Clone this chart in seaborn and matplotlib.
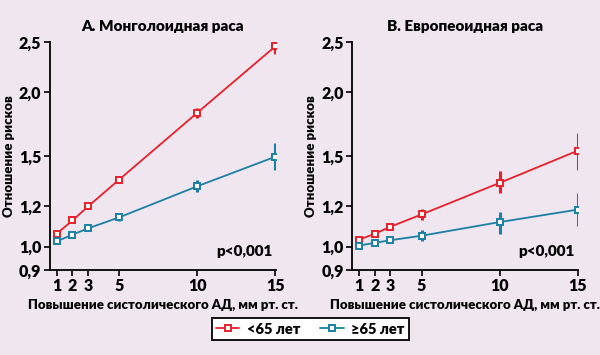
import numpy as np
import pandas as pd
import matplotlib
matplotlib.use("Agg")
import matplotlib.pyplot as plt
import seaborn as sns

# data
sbp = [1, 2, 3, 5, 10, 15]
groups = ["<65 лет", "≥65 лет"]

mong_young = [1.06, 1.124, 1.197, 1.35, 1.82, 2.45]
mong_young_lo = [1.05, 1.115, 1.187, 1.335, 1.78, 2.37]
mong_young_hi = [1.07, 1.133, 1.207, 1.365, 1.86, 2.52]
mong_old = [1.024, 1.055, 1.085, 1.14, 1.31, 1.495]
mong_old_lo = [1.017, 1.048, 1.077, 1.12, 1.275, 1.41]
mong_old_hi = [1.031, 1.062, 1.093, 1.16, 1.345, 1.59]

eur_young = [1.032, 1.059, 1.093, 1.155, 1.33, 1.536]
eur_young_lo = [1.022, 1.05, 1.083, 1.125, 1.27, 1.41]
eur_young_hi = [1.042, 1.068, 1.103, 1.185, 1.40, 1.66]
eur_old = [1.005, 1.017, 1.029, 1.05, 1.116, 1.18]
eur_old_lo = [0.998, 1.01, 1.021, 1.027, 1.06, 1.095]
eur_old_hi = [1.012, 1.024, 1.037, 1.075, 1.17, 1.27]

panels = [
    ("А. Монголоидная раса", mong_young, mong_young_lo, mong_young_hi, mong_old, mong_old_lo, mong_old_hi),
    ("В. Европеоидная раса", eur_young, eur_young_lo, eur_young_hi, eur_old, eur_old_lo, eur_old_hi),
]

yticks = [0.9, 1.0, 1.2, 1.5, 2.0, 2.5]
ytick_labels = ["0,9", "1,0", "1,2", "1,5", "2,0", "2,5"]

bg = "#f0e6f0"
colors = {"<65 лет": "#e8202a", "≥65 лет": "#1b7fa6"}

sns.set_style("ticks")
plt.rcParams["font.family"] = ["Lato", "DejaVu Sans"]
plt.rcParams["font.weight"] = "heavy"
plt.rcParams["text.color"] = "black"
plt.rcParams["xtick.color"] = "black"
plt.rcParams["ytick.color"] = "black"
plt.rcParams["axes.labelcolor"] = "black"

fig = plt.figure(figsize=(6, 3.55), dpi=100, facecolor=bg)
axes = [fig.add_axes([0.083, 0.239, 0.377, 0.643]),
        fig.add_axes([0.587, 0.239, 0.377, 0.643])]

for ax, (title, y1, l1, h1, y2, l2, h2) in zip(axes, panels):
    ax.set_facecolor(bg)
    df = pd.DataFrame({
        "sbp": sbp * 2,
        "rr": y1 + y2,
        "group": [groups[0]] * 6 + [groups[1]] * 6,
    })
    for yy, lo, hi, g in [(y1, l1, h1, groups[0]), (y2, l2, h2, groups[1])]:
        yerr = [np.array(yy) - np.array(lo), np.array(hi) - np.array(yy)]
        ax.errorbar(sbp, yy, yerr=yerr, fmt="none", ecolor=colors[g],
                    elinewidth=2.2, capsize=0, zorder=2)
    sns.lineplot(data=df, x="sbp", y="rr", hue="group", palette=colors,
                 marker="s", markersize=5, linewidth=1.3, ax=ax,
                 legend=False, zorder=3)
    for ln in ax.lines:
        ln.set_markerfacecolor("white")
        ln.set_markeredgecolor(ln.get_color())
        ln.set_markeredgewidth(1.4)
    ax.set_yscale("log")
    ax.set_ylim(0.9, 2.5)
    ax.set_xlim(0.55, 15.05)
    ax.set_yticks(yticks)
    ax.set_yticklabels(ytick_labels)
    ax.minorticks_off()
    ax.set_xticks(sbp)
    ax.set_xticklabels([str(v) for v in sbp])
    ax.tick_params(labelsize=11.5, width=1.2, length=4, pad=2)
    for s in ["top", "right"]:
        ax.spines[s].set_visible(False)
    for s in ["left", "bottom"]:
        ax.spines[s].set_linewidth(1.3)
        ax.spines[s].set_color("black")
    ax.set_title(title, fontsize=11, fontweight="heavy", pad=8)
    ax.set_xlabel("Повышение систолического АД, мм рт. ст.", fontsize=9.5,
                  fontweight="heavy", labelpad=3)
    ax.set_ylabel("Отношение рисков", fontsize=9.5, fontweight="heavy", labelpad=3)
    ax.text(0.985, 0.08, "p<0,001", transform=ax.transAxes, ha="right",
            va="center", fontsize=11, fontweight="heavy")

handles = [plt.Line2D([], [], color=colors[g], marker="s", markersize=5,
                      markerfacecolor="white", markeredgewidth=1.4, lw=1.3)
           for g in groups]
leg = fig.legend(handles, groups, loc="center", bbox_to_anchor=(0.517, 0.073),
                 ncol=2, frameon=True, fancybox=False,
                 prop={"size": 10.5, "weight": "heavy"},
                 handlelength=1.6, handletextpad=0.5, columnspacing=1.4,
                 borderpad=0.3, facecolor="white", edgecolor="black",
                 framealpha=1)
leg.get_frame().set_linewidth(1.3)

fig.savefig("out.png", dpi=100, facecolor=bg)
